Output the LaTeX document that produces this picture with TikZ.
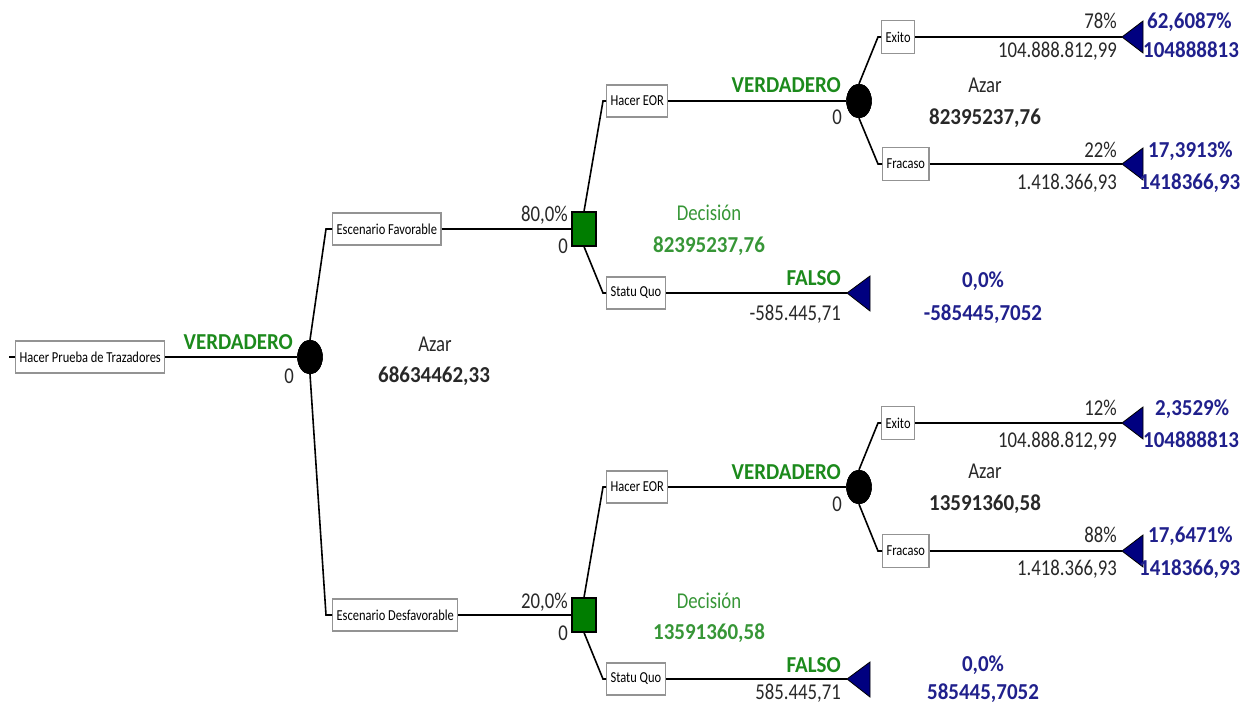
\documentclass[tikz,border=0pt]{standalone}
\usepackage{fontspec}
\setmainfont{Carlito}
\newfontfamily\rfont[FakeStretch=0.83]{Carlito}
\newfontfamily\bfont[FakeStretch=0.92]{Carlito}
\newfontfamily\sfontx[FakeStretch=0.82]{Carlito}
\usetikzlibrary{shapes.geometric}
\definecolor{txt}{RGB}{40,40,40}
\definecolor{vgreen}{RGB}{28,138,28}
\definecolor{dgreen}{RGB}{55,150,55}
\definecolor{sqgreen}{RGB}{0,125,0}
\definecolor{navyfill}{RGB}{0,0,128}
\definecolor{bluetxt}{RGB}{32,32,140}
\begin{document}
\begin{tikzpicture}[x=1pt,y=-1pt,
  box/.style={draw=gray!85, line width=1.2pt, fill=white, font=\sfontx\fontsize{15.2}{17}\selectfont, text=black, minimum height=32pt, inner xsep=4pt, inner ysep=0pt, anchor=west},
  chance/.style={ellipse, fill=black, draw=black, minimum width=25pt, minimum height=34pt, inner sep=0pt},
  decision/.style={rectangle, fill=sqgreen, draw=black, line width=1.2pt, minimum width=24pt, minimum height=34pt, inner sep=0pt},
  conn/.style={line width=1.6pt, black},
  endtri/.style={fill=navyfill, draw=black, line width=0.8pt, line join=miter},
  bt/.style={font=\bfont\bfseries\fontsize{22.8}{26}\selectfont, inner sep=0pt},
  rt/.style={font=\rfont\fontsize{22.6}{26}\selectfont, inner sep=0pt, text=txt}
]
\useasboundingbox (0,0) rectangle (1252,708);

% ---------- nodes ----------
\coordinate (rin) at (9,357);
\node[box] (root) at (15,357) {Hacer Prueba de Trazadores};
\node[chance] (c1) at (310,357) {};

\node[box] (fav) at (332,229) {Escenario Favorable};
\node[box] (desf) at (332,615) {Escenario Desfavorable};

\node[decision] (d1) at (584,229) {};
\node[decision] (d2) at (584,615) {};

\node[box] (eor1) at (606,101) {Hacer EOR};
\node[box] (sq1) at (606,293) {Statu Quo};
\node[box] (eor2) at (606,487) {Hacer EOR};
\node[box] (sq2) at (606,679) {Statu Quo};

\node[chance] (c2) at (859,101) {};
\node[chance] (c3) at (859,487) {};

\node[box, minimum height=33pt] (ex1) at (881,37) {Exito};
\node[box, minimum height=33pt] (fr1) at (882,164) {Fracaso};
\node[box, minimum height=33pt] (ex2) at (881,423) {Exito};
\node[box, minimum height=33pt] (fr2) at (882,551) {Fracaso};

\coordinate (t1) at (1122,37);
\coordinate (t2) at (1122,164);
\coordinate (t3) at (847,293);
\coordinate (t4) at (1122,423);
\coordinate (t5) at (1122,551);
\coordinate (t6) at (847,679);

% ---------- connectors ----------
\draw[conn] (rin) -- (root.west);
\draw[conn] (root.east) -- (c1.west);
\draw[conn] (c1.north) -- ([xshift=-6pt]fav.west) -- (fav.west);
\draw[conn] (c1.south) -- ([xshift=-6pt]desf.west) -- (desf.west);
\draw[conn] (fav.east) -- (d1.west);
\draw[conn] (desf.east) -- (d2.west);
\draw[conn] (d1.north) -- ([xshift=-3pt]eor1.west) -- (eor1.west);
\draw[conn] (d1.south) -- ([xshift=-3pt]sq1.west) -- (sq1.west);
\draw[conn] (d2.north) -- ([xshift=-3pt]eor2.west) -- (eor2.west);
\draw[conn] (d2.south) -- ([xshift=-3pt]sq2.west) -- (sq2.west);
\draw[conn] (eor1.east) -- (c2.west);
\draw[conn] (eor2.east) -- (c3.west);
\draw[conn] (sq1.east) -- (t3);
\draw[conn] (sq2.east) -- (t6);
\draw[conn] (c2.north) -- ([xshift=-3pt]ex1.west) -- (ex1.west);
\draw[conn] (c2.south) -- ([xshift=-4pt]fr1.west) -- (fr1.west);
\draw[conn] (c3.north) -- ([xshift=-3pt]ex2.west) -- (ex2.west);
\draw[conn] (c3.south) -- ([xshift=-4pt]fr2.west) -- (fr2.west);
\draw[conn] (ex1.east) -- (t1);
\draw[conn] (fr1.east) -- (t2);
\draw[conn] (ex2.east) -- (t4);
\draw[conn] (fr2.east) -- (t5);

% redraw shapes on top
\node[chance] at (c1) {};
\node[chance] at (c2) {};
\node[chance] at (c3) {};
\node[decision] at (d1) {};
\node[decision] at (d2) {};

% ---------- terminal triangles ----------
\foreach \t in {t1,t2,t4,t5} {
  \filldraw[endtri] (\t) -- ++(21,-16) -- ++(0,32) -- cycle;
}
\foreach \t in {t3,t6} {
  \filldraw[endtri] (\t) -- ++(23,-17) -- ++(0,35) -- cycle;
}

% ---------- root labels ----------
\node[bt, text=vgreen, anchor=base east] (lv0) at (293,349) {VERDADERO};
\node[rt, anchor=base] (lz0) at (289,383) {0};
\node[rt, anchor=base] (la0) at (435,352) {Azar};
\node[bt, text=txt, anchor=base] (lx0) at (434,382) {68634462,33};

% ---------- upper decision ----------
\node[rt, anchor=base east] (lp1) at (568,222) {80,0\%};
\node[rt, anchor=base] (lz1) at (563,254) {0};
\node[rt, text=dgreen, anchor=base] (ld1) at (709,221) {Decisión};
\node[bt, text=dgreen, anchor=base] (ldv1) at (709,253) {82395237,76};

\node[bt, text=vgreen, anchor=base east] (lv1) at (841,93) {VERDADERO};
\node[rt, anchor=base] (lz2) at (837,125) {0};
\node[rt, anchor=base] (la1) at (985,93) {Azar};
\node[bt, text=txt, anchor=base] (lx1) at (985,125) {82395237,76};

\node[rt, anchor=base east] at (1117,29) {78\%};
\node[rt, anchor=base east] at (1117,58) {104.888.812,99};
\node[bt, text=bluetxt, anchor=base west] at (1147,29) {62,6087\%};
\node[bt, text=bluetxt, anchor=base west] at (1143,58) {104888813};

\node[rt, anchor=base east] at (1117,158) {22\%};
\node[rt, anchor=base east] at (1117,190) {1.418.366,93};
\node[bt, text=bluetxt, anchor=base west] at (1148,158) {17,3913\%};
\node[bt, text=bluetxt, anchor=base west] at (1139,190) {1418366,93};

\node[bt, text=vgreen, anchor=base east] at (841,286) {FALSO};
\node[rt, anchor=base east] at (841,320) {-585.445,71};
\node[bt, text=bluetxt, anchor=base] at (983,288) {0,0\%};
\node[bt, text=bluetxt, anchor=base] at (983,320) {-585445,7052};

% ---------- lower decision ----------
\node[rt, anchor=base east] (lp2) at (568,608) {20,0\%};
\node[rt, anchor=base] (lz3) at (563,640) {0};
\node[rt, text=dgreen, anchor=base] (ld2) at (709,608) {Decisión};
\node[bt, text=dgreen, anchor=base] (ldv2) at (709,639) {13591360,58};

\node[bt, text=vgreen, anchor=base east] (lv2) at (841,479) {VERDADERO};
\node[rt, anchor=base] (lz4) at (837,511) {0};
\node[rt, anchor=base] (la2) at (985,478) {Azar};
\node[bt, text=txt, anchor=base] (lx2) at (985,510) {13591360,58};

\node[rt, anchor=base east] at (1117,415) {12\%};
\node[rt, anchor=base east] at (1117,447) {104.888.812,99};
\node[bt, text=bluetxt, anchor=base west] at (1155,415) {2,3529\%};
\node[bt, text=bluetxt, anchor=base west] at (1143,447) {104888813};

\node[rt, anchor=base east] at (1117,542) {88\%};
\node[rt, anchor=base east] at (1117,575) {1.418.366,93};
\node[bt, text=bluetxt, anchor=base west] at (1148,542) {17,6471\%};
\node[bt, text=bluetxt, anchor=base west] at (1139,575) {1418366,93};

\node[bt, text=vgreen, anchor=base east] at (841,672) {FALSO};
\node[rt, anchor=base east] at (841,699) {585.445,71};
\node[bt, text=bluetxt, anchor=base] at (983,671) {0,0\%};
\node[bt, text=bluetxt, anchor=base] at (983,699) {585445,7052};
\end{tikzpicture}
\end{document}
